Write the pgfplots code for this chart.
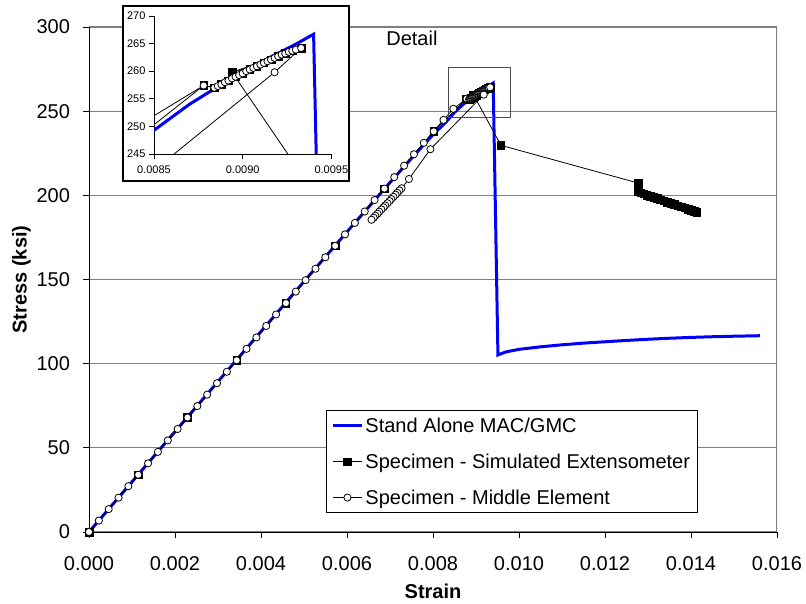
\documentclass[border=0pt]{standalone}
\usepackage{fontspec}
\setmainfont{Liberation Sans}
\usepackage{pgfplots}
\usepackage{pgfplotstable}
\pgfplotsset{compat=1.18}
\definecolor{gridgray}{RGB}{128,128,128}
\definecolor{mblue}{RGB}{0,0,255}

\pgfplotstableread{
x y
0 0
0.001 29.8
0.002 59.6
0.003 89.4
0.004 119.1
0.005 148.8
0.006 178.3
0.007 207.6
0.0075 222.0
0.008 236.0
0.0083 243.5
0.0085 249.3
0.0087 254.0
0.0089 258.0
0.0091 261.6
0.0093 264.9
0.0094 266.7
0.00951 105.2
0.0097 107.0
0.0100 108.5
0.0105 110.0
0.0110 111.2
0.0115 112.2
0.0120 113.0
0.0125 113.8
0.0130 114.5
0.0135 115.1
0.0140 115.6
0.0145 116.0
0.0150 116.3
0.0156 116.6
}\blueline

\pgfplotstableread{
x y
0 0
0.001145 34.0
0.00229 68.0
0.003435 102.0
0.00458 136.0
0.005725 170.0
0.00687 204.0
0.008015 238.0
0.00878 257.4
0.00884 257.0
0.00888 257.6
0.00892 258.3
0.00896 259.0
0.00900 259.6
0.00904 260.3
0.00908 260.9
0.00912 261.5
0.00916 262.1
0.00920 262.7
0.00924 263.2
0.00928 263.7
0.00933 264.2
0.00894 259.8
0.00958 229.7
0.01277 207.3
0.01278 202.3
0.01283 201.5
0.01290 200.9
0.01297 200.2
0.01305 199.5
0.01313 198.8
0.01321 198.1
0.01329 197.4
0.01337 196.7
0.01345 196.0
0.01353 195.3
0.01361 194.6
0.01369 193.9
0.01377 193.3
0.01385 192.6
0.01393 191.8
0.01401 191.0
0.01407 190.4
0.01413 189.9
}\extenso

\pgfplotstableread{
x y
0 0
0.000229 6.8
0.000458 13.6
0.000687 20.4
0.000916 27.2
0.001145 34.0
0.001374 40.8
0.001603 47.6
0.001832 54.4
0.002061 61.2
0.00229 68.0
0.002519 74.8
0.002748 81.6
0.002977 88.4
0.003206 95.2
0.003435 102.0
0.003664 108.8
0.003893 115.6
0.004122 122.4
0.004351 129.2
0.00458 136.0
0.004809 142.8
0.005038 149.6
0.005267 156.4
0.005496 163.2
0.005725 170.0
0.005954 176.8
0.006183 183.6
0.006412 190.4
0.006641 197.2
0.00687 204.0
0.007099 210.8
0.007328 217.6
0.007557 224.4
0.007786 231.2
0.008015 238.0
0.008244 244.8
0.008473 251.4
0.00878 257.4
0.00884 257.0
0.00886 257.3
0.00888 257.6
0.00890 258.0
0.00892 258.3
0.00894 258.7
0.00896 259.0
0.00898 259.3
0.00900 259.6
0.00902 260.0
0.00904 260.3
0.00906 260.6
0.00908 260.9
0.00910 261.2
0.00912 261.5
0.00914 261.8
0.00916 262.1
0.00918 262.4
0.00920 262.7
0.00922 263.0
0.00924 263.2
0.00926 263.5
0.00928 263.7
0.00930 263.9
0.00933 264.2
0.00918 259.8
0.00794 227.4
0.00744 209.7
0.00727 204.2
0.00722 202.9
0.00717 201.5
0.00713 200.4
0.00708 199.1
0.00703 197.8
0.00699 196.6
0.00694 195.3
0.00689 194.0
0.00685 192.9
0.00680 191.6
0.00675 190.3
0.00671 189.1
0.00666 187.9
0.00662 186.7
0.00657 185.5
}\middle

\pgfplotsset{
  bluestyle/.style={mblue, line width=3pt, no marks},
  sqstyle/.style={black, line width=0.8pt, mark=square*, mark size=3.8pt, mark options={fill=black, draw=black, solid, line width=0.5pt}},
  cistyle/.style={black, line width=0.8pt, mark=*, mark size=3.6pt, mark options={fill=white, draw=black, solid, line width=0.8pt}},
}

\begin{document}
\begin{tikzpicture}[x=1pt,y=1pt]
\path (0,0) rectangle (806,604);
\begin{axis}[
  at={(89pt,72pt)}, anchor=south west,
  scale only axis, width=688pt, height=505pt,
  xmin=0, xmax=0.016, ymin=0, ymax=300,
  axis x line*=bottom, axis y line*=left,
  axis line style={black, line width=0.9pt},
  xtick={0,0.002,0.004,0.006,0.008,0.010,0.012,0.014,0.016},
  xticklabels={0.000,0.002,0.004,0.006,0.008,0.010,0.012,0.014,0.016},
  ytick={0,50,100,150,200,250,300},
  yticklabels={0,50,100,150,200,250,300},
  scaled x ticks=false,
  /pgf/number format/assume math mode=true,
  tick align=outside, major tick length=6.5pt,
  tick style={black, line width=0.9pt},
  ticklabel style={font=\fontsize{20}{24}\selectfont},
  xticklabel style={yshift=-15pt},
  yticklabel style={xshift=-9pt},
  ymajorgrids, major grid style={gridgray, line width=1.1pt},
  xlabel={\textbf{Strain}}, ylabel={\textbf{Stress (ksi)}},
  label style={font=\fontsize{20}{24}\selectfont},
  xlabel style={at={(axis description cs:0.5,-0.117)}, anchor=center},
  ylabel style={at={(axis description cs:-0.098,0.5)}, anchor=center, rotate=0},
  legend style={at={(rel axis cs:0.3445,0.0376)}, anchor=south west,
    draw=black, line width=0.9pt, fill=white, font=\fontsize{20}{24}\selectfont,
    inner sep=5pt, row sep=16pt, nodes={inner sep=2pt}},
  legend cell align=left,
  legend image code/.code={\draw[mark repeat=2,mark phase=2] plot coordinates {(0pt,0pt) (14.5pt,0pt) (29pt,0pt)};},
  clip=true,
]
\addplot[bluestyle] table {\blueline};
\addlegendentry{Stand Alone MAC/GMC}
\addplot[sqstyle] table {\extenso};
\addlegendentry{Specimen - Simulated Extensometer}
\addplot[cistyle] table {\middle};
\addlegendentry{Specimen - Middle Element}
\draw[gridgray, line width=1.1pt] (rel axis cs:1,0) -- (rel axis cs:1,1);
\draw[black!70, line width=0.9pt] (axis cs:0.00835,246) rectangle (axis cs:0.0098,276);
\node[font=\fontsize{20}{24}\selectfont] at (axis cs:0.00751,293.5) {Detail};
\end{axis}

\fill[white] (123,423) rectangle (349,598);
\draw[black, line width=1.2pt] (123,423) rectangle (349,598);
\begin{axis}[
  at={(154pt,450pt)}, anchor=south west,
  scale only axis, width=177.3pt, height=138pt,
  xmin=0.0085, xmax=0.0095, ymin=245, ymax=270,
  axis x line*=bottom, axis y line*=left,
  axis line style={black, line width=0.8pt},
  xtick={0.0085,0.009,0.0095}, xticklabels={0.0085,0.0090,0.0095},
  ytick={245,250,255,260,265,270}, yticklabels={245,250,255,260,265,270},
  scaled x ticks=false,
  /pgf/number format/assume math mode=true,
  tick align=outside, major tick length=5pt,
  tick style={black, line width=0.8pt},
  ticklabel style={font=\fontsize{11}{13}\selectfont},
  xticklabel style={yshift=-3pt},
]
\addplot[bluestyle] table {\blueline};
\addplot[sqstyle] table {\extenso};
\addplot[cistyle] table {\middle};
\end{axis}
\end{tikzpicture}
\end{document}
